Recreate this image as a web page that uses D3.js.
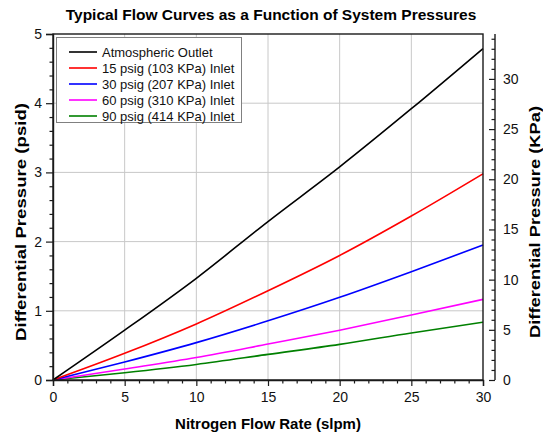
<!DOCTYPE html>
<html>
<head>
<meta charset="utf-8">
<script src="https://cdn.jsdelivr.net/npm/d3@7/dist/d3.min.js"></script>
<style>
  html, body { margin: 0; padding: 0; background: #fff; }
  svg { display: block; font-family: "Liberation Sans", Arial, sans-serif; }
</style>
</head>
<body>
<svg id="chart" width="543" height="436"></svg>
<script>
// ---- data ----
const flowRates = [0, 5, 10, 15, 20, 25, 30];
const seriesNames = [
  "Atmospheric Outlet",
  "15 psig (103 KPa) Inlet",
  "30 psig (207 KPa) Inlet",
  "60 psig (310 KPa) Inlet",
  "90 psig (414 KPa) Inlet"
];
const atmospheric = [0, 0.72, 1.47, 2.29, 3.08, 3.92, 4.79];
const psig15 = [0, 0.385, 0.81, 1.29, 1.80, 2.37, 2.98];
const psig30 = [0, 0.26, 0.54, 0.855, 1.195, 1.565, 1.95];
const psig60 = [0, 0.16, 0.325, 0.52, 0.72, 0.94, 1.165];
const psig90 = [0, 0.105, 0.225, 0.37, 0.515, 0.68, 0.835];
const seriesColors = ["#000000", "#ff0000", "#0000ff", "#ff00ff", "#008000"];
const xTicks = [0, 5, 10, 15, 20, 25, 30];
const yTicks = [0, 1, 2, 3, 4, 5];
const yRightTicks = [0, 5, 10, 15, 20, 25, 30];
const PSI_TO_KPA = 6.89476;

const allSeries = [atmospheric, psig15, psig30, psig60, psig90];

// ---- layout ----
const svg = d3.select("#chart");
const L = 53, R = 483, T = 34, B = 380;
const rightAxisX = 495;

const x = d3.scaleLinear().domain([0, 30]).range([L, R]);
const y = d3.scaleLinear().domain([0, 5]).range([B, T]);
const yR = d3.scaleLinear().domain([0, 5 * PSI_TO_KPA]).range([B, T]);

// grid
const grid = svg.append("g").attr("stroke", "#c8c8c8").attr("stroke-width", 1);
xTicks.filter(v => v > 0 && v < 30).forEach(v => {
  grid.append("line").attr("x1", x(v)).attr("x2", x(v)).attr("y1", T).attr("y2", B);
});
yTicks.filter(v => v > 0 && v < 5).forEach(v => {
  grid.append("line").attr("x1", L).attr("x2", R).attr("y1", y(v)).attr("y2", y(v));
});

// lines
const line = d3.line()
  .x((d, i) => x(flowRates[i]))
  .y(d => y(d))
  .curve(d3.curveMonotoneX);

const order = [4, 3, 2, 1, 0];
order.forEach(k => {
  svg.append("path")
    .datum(allSeries[k])
    .attr("fill", "none")
    .attr("stroke", seriesColors[k])
    .attr("stroke-width", 1.6)
    .attr("d", line);
});

// frame
svg.append("rect")
  .attr("x", L).attr("y", T).attr("width", R - L).attr("height", B - T)
  .attr("fill", "none").attr("stroke", "#1a1a1a").attr("stroke-width", 1.4);

const tickFont = 14;

// bottom axis
const xAxis = svg.append("g").attr("transform", `translate(0,${B})`)
  .call(d3.axisBottom(x).tickValues(xTicks).tickSize(6).tickPadding(6).tickFormat(d3.format("d")));
const xMinor = svg.append("g").attr("transform", `translate(0,${B})`)
  .call(d3.axisBottom(x).tickValues(d3.range(0, 31, 1).filter(v => v % 5 !== 0)).tickSize(3.5).tickFormat(""));

// left axis
const yAxis = svg.append("g").attr("transform", `translate(${L},0)`)
  .call(d3.axisLeft(y).tickValues(yTicks).tickSize(7).tickPadding(4).tickFormat(d3.format("d")));
const yMinor = svg.append("g").attr("transform", `translate(${L},0)`)
  .call(d3.axisLeft(y).tickValues(d3.range(0, 5.0001, 0.2).filter(v => Math.abs(v - Math.round(v)) > 1e-6)).tickSize(3.5).tickFormat(""));

// right axis (ticks point inward / left)
const yRAxis = svg.append("g").attr("transform", `translate(${rightAxisX},0)`)
  .call(d3.axisRight(yR).tickValues(yRightTicks).tickSizeInner(-6).tickSizeOuter(0).tickPadding(8).tickFormat(d3.format("d")));
const yRMinor = svg.append("g").attr("transform", `translate(${rightAxisX},0)`)
  .call(d3.axisRight(yR).tickValues(d3.range(0, 35, 1).filter(v => v % 5 !== 0)).tickSizeInner(-3.5).tickSizeOuter(0).tickFormat(""));

[xAxis, xMinor, yAxis, yMinor, yRAxis, yRMinor].forEach(g => {
  g.selectAll(".domain").attr("stroke", "#1a1a1a").attr("stroke-width", 1.4);
  g.selectAll(".tick line").attr("stroke", "#1a1a1a").attr("stroke-width", 1.2);
  g.selectAll(".tick text").attr("fill", "#111").style("font-size", tickFont + "px")
    .style("font-family", "'Liberation Sans', Arial, sans-serif");
});
// right axis domain should span full height
yRAxis.select(".domain").attr("d", `M0,${T}V${B}`);
yRMinor.select(".domain").remove();
xMinor.select(".domain").remove();
yMinor.select(".domain").remove();

// titles
svg.append("text")
  .attr("x", 271).attr("y", 20)
  .attr("text-anchor", "middle")
  .style("font-size", "15.5px").style("font-weight", "bold")
  .text("Typical Flow Curves as a Function of System Pressures");

svg.append("text")
  .attr("x", (L + R) / 2).attr("y", 429)
  .attr("text-anchor", "middle")
  .style("font-size", "15px").style("font-weight", "bold")
  .text("Nitrogen Flow Rate (slpm)");

svg.append("text")
  .attr("transform", `translate(26,222) rotate(-90)`)
  .attr("text-anchor", "middle")
  .attr("textLength", 238).attr("lengthAdjust", "spacingAndGlyphs")
  .style("font-size", "15.5px").style("font-weight", "bold")
  .text("Differential Pressure (psid)");

svg.append("text")
  .attr("transform", `translate(540,222) rotate(-90)`)
  .attr("text-anchor", "middle")
  .attr("textLength", 232).attr("lengthAdjust", "spacingAndGlyphs")
  .style("font-size", "15.5px").style("font-weight", "bold")
  .text("Differential Pressure (KPa)");

// legend
const lg = svg.append("g");
lg.append("rect")
  .attr("x", 56.5).attr("y", 37.5).attr("width", 185).attr("height", 85)
  .attr("fill", "#fff").attr("stroke", "#808080").attr("stroke-width", 1);
seriesNames.forEach((name, i) => {
  const cy = 52 + i * 16;
  lg.append("line").attr("x1", 69).attr("x2", 97).attr("y1", cy).attr("y2", cy)
    .attr("stroke", seriesColors[i]).attr("stroke-width", 1.6);
  lg.append("text").attr("x", 102).attr("y", cy + 4.5)
    .style("font-size", "13px").attr("fill", "#111").text(name);
});
</script>
</body>
</html>
